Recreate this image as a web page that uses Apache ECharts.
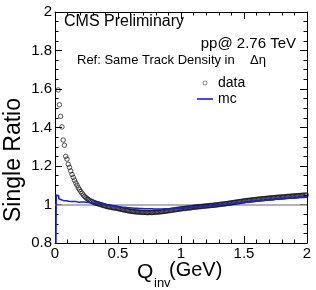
<!DOCTYPE html>
<html>
<head>
<meta charset="utf-8">
<script src="https://cdn.jsdelivr.net/npm/echarts@6/dist/echarts.min.js"></script>
<style>
html,body{margin:0;padding:0;background:#fff;}
#chart{width:316px;height:290px;}
</style>
</head>
<body>
<div id="chart"></div>
<script>
// Binning of the Q_inv histograms (GeV)
const binWidth = 0.01;
const nBins = 200;

// Tick labels
const xTicks = ["0", "0.5", "1", "1.5", "2"];
const yTicks = ["0.8", "1", "1.2", "1.4", "1.6", "1.8", "2"];

// data: single ratio per bin (null = not shown)
const dataRatio = [
  null, null, 1.595, 1.518, 1.458, 1.403, 1.335, 1.308, 1.250, 1.236,
  1.209, 1.193, 1.174, 1.156, 1.141, 1.126, 1.112, 1.100, 1.087, 1.077,
  1.067, 1.058, 1.049, 1.042, 1.036, 1.030, 1.026, 1.021, 1.018, 1.015,
  1.012, 1.009, 1.007, 1.005, 1.003, 1.001, 0.999, 0.997, 0.995, 0.993,
  0.991, 0.989, 0.988, 0.987, 0.985, 0.984, 0.983, 0.982, 0.981, 0.980,
  0.978, 0.977, 0.975, 0.974, 0.972, 0.971, 0.970, 0.968, 0.967, 0.966,
  0.965, 0.964, 0.963, 0.962, 0.962, 0.961, 0.961, 0.960, 0.960, 0.959,
  0.959, 0.959, 0.958, 0.958, 0.958, 0.959, 0.958, 0.959, 0.959, 0.960,
  0.960, 0.961, 0.961, 0.962, 0.963, 0.963, 0.964, 0.965, 0.966, 0.967,
  0.968, 0.969, 0.970, 0.971, 0.972, 0.973, 0.974, 0.975, 0.976, 0.977,
  0.978, 0.979, 0.979, 0.980, 0.981, 0.982, 0.982, 0.983, 0.984, 0.985,
  0.986, 0.987, 0.987, 0.988, 0.989, 0.989, 0.990, 0.991, 0.991, 0.992,
  0.993, 0.993, 0.994, 0.995, 0.995, 0.996, 0.997, 0.997, 0.998, 0.999,
  1.000, 1.001, 1.002, 1.002, 1.003, 1.004, 1.005, 1.006, 1.007, 1.008,
  1.009, 1.010, 1.011, 1.012, 1.013, 1.014, 1.015, 1.016, 1.017, 1.018,
  1.019, 1.020, 1.021, 1.021, 1.022, 1.023, 1.024, 1.025, 1.025, 1.026,
  1.027, 1.028, 1.028, 1.029, 1.030, 1.030, 1.031, 1.032, 1.032, 1.033,
  1.034, 1.034, 1.035, 1.035, 1.036, 1.037, 1.037, 1.038, 1.038, 1.039,
  1.039, 1.040, 1.040, 1.041, 1.042, 1.042, 1.043, 1.043, 1.044, 1.044,
  1.045, 1.045, 1.046, 1.046, 1.047, 1.047, 1.048, 1.048, 1.049, 1.049
];

// mc: single ratio per bin (histogram)
const mcRatio = [
  0.000, 1.049, 1.046, 1.030, 1.025, 1.022, 1.020, 1.018, 1.019, 1.016,
  1.017, 1.015, 1.016, 1.014, 1.015, 1.013, 1.015, 1.014, 1.012, 1.014,
  1.013, 1.012, 1.013, 1.011, 1.012, 1.010, 1.011, 1.009, 1.010, 1.008,
  1.008, 1.007, 1.006, 1.006, 1.005, 1.004, 1.004, 1.003, 1.003, 1.002,
  0.998, 0.998, 0.997, 0.996, 0.995, 0.994, 0.993, 0.992, 0.991, 0.990,
  0.989, 0.988, 0.987, 0.987, 0.986, 0.985, 0.984, 0.984, 0.983, 0.982,
  0.982, 0.981, 0.981, 0.980, 0.980, 0.980, 0.979, 0.979, 0.979, 0.979,
  0.978, 0.978, 0.978, 0.978, 0.978, 0.977, 0.978, 0.977, 0.977, 0.977,
  0.977, 0.977, 0.977, 0.977, 0.977, 0.977, 0.978, 0.977, 0.978, 0.978,
  0.978, 0.978, 0.979, 0.979, 0.979, 0.980, 0.980, 0.980, 0.981, 0.981,
  0.981, 0.982, 0.982, 0.983, 0.983, 0.984, 0.984, 0.985, 0.985, 0.986,
  0.986, 0.987, 0.987, 0.988, 0.988, 0.989, 0.990, 0.990, 0.991, 0.991,
  0.992, 0.993, 0.993, 0.994, 0.995, 0.995, 0.996, 0.997, 0.997, 0.998,
  0.999, 0.999, 1.000, 1.001, 1.001, 1.002, 1.003, 1.003, 1.004, 1.005,
  1.005, 1.006, 1.007, 1.007, 1.008, 1.009, 1.009, 1.010, 1.011, 1.011,
  1.012, 1.013, 1.013, 1.014, 1.015, 1.015, 1.016, 1.017, 1.017, 1.018,
  1.018, 1.019, 1.020, 1.020, 1.021, 1.021, 1.022, 1.023, 1.023, 1.024,
  1.024, 1.025, 1.025, 1.026, 1.027, 1.027, 1.028, 1.028, 1.029, 1.029,
  1.030, 1.030, 1.031, 1.031, 1.032, 1.032, 1.033, 1.033, 1.034, 1.034,
  1.034, 1.035, 1.035, 1.036, 1.036, 1.036, 1.037, 1.037, 1.038, 1.038
];

const referenceLevel = 1;

const FONT = "'Liberation Sans', Arial, Helvetica, sans-serif";

// build series data
const dataPoints = [];
for (let i = 0; i < nBins; i++) {
  if (dataRatio[i] !== null) dataPoints.push([(i + 0.5) * binWidth, dataRatio[i]]);
}
const mcPoints = [];
for (let i = 0; i < nBins; i++) mcPoints.push([i * binWidth, mcRatio[i]]);
mcPoints.push([nBins * binWidth, mcRatio[nBins - 1]]);

const tickCommon = {
  axisLine: { show: true, onZero: false, lineStyle: { color: '#000', width: 1 } },
  splitLine: { show: false }
};

function xAx(pos, labels) {
  return Object.assign({}, tickCommon, {
    type: 'value', min: 0, max: 2, interval: 0.5, position: pos,
    axisTick: { show: true, inside: true, length: 7, lineStyle: { color: '#000' } },
    minorTick: { show: true, splitNumber: 5, length: 3.5, lineStyle: { color: '#000' } },
    axisLabel: labels ? {
      show: true, fontSize: 15, color: '#000', fontFamily: FONT, margin: 3,
      showMinLabel: true, showMaxLabel: true,
      formatter: function (v) { return xTicks[Math.round(v / 0.5)]; }
    } : { show: false }
  });
}
function yAx(pos, labels) {
  return Object.assign({}, tickCommon, {
    type: 'value', min: 0.8, max: 2, interval: 0.2, position: pos,
    axisTick: { show: true, inside: true, length: 7, lineStyle: { color: '#000' } },
    minorTick: { show: true, splitNumber: 4, length: 3.5, lineStyle: { color: '#000' } },
    axisLabel: labels ? {
      show: true, fontSize: 15, color: '#000', fontFamily: FONT, margin: 3,
      showMinLabel: true, showMaxLabel: true,
      formatter: function (v) { return yTicks[Math.round((v - 0.8) / 0.2)]; }
    } : { show: false }
  });
}

const chart = echarts.init(document.getElementById('chart'), null, { renderer: 'canvas' });
chart.setOption({
  backgroundColor: '#fff',
  animation: false,
  grid: { left: 55, right: 9, top: 12, bottom: 47, containLabel: false },
  xAxis: [xAx('bottom', true), xAx('top', false)],
  yAxis: [yAx('left', true), yAx('right', false)],
  legend: {
    orient: 'vertical', left: 192, top: 71, itemWidth: 16, itemHeight: 4, itemGap: 2,
    textStyle: { fontSize: 14, color: '#000', fontFamily: FONT },
    data: [
      { name: 'data', icon: 'circle',
        itemStyle: { color: 'rgba(0,0,0,0)', borderColor: '#333', borderWidth: 0.7 } },
      { name: 'mc', icon: 'path://M0,0 L16,0 L16,1.6 L0,1.6 Z',
        itemStyle: { color: '#1a1aff', borderWidth: 0 } }
    ]
  },
  series: [
    {
      name: 'data', type: 'scatter', xAxisIndex: 0, yAxisIndex: 0,
      data: dataPoints, symbol: 'circle', symbolSize: 4.5,
      itemStyle: { color: 'rgba(0,0,0,0)', borderColor: '#111', borderWidth: 0.9 },
      z: 3,
      markLine: {
        silent: true, symbol: 'none', label: { show: false },
        lineStyle: { color: '#9a9a9a', width: 1.5, type: 'solid' },
        data: [{ yAxis: referenceLevel }], z: 1
      }
    },
    {
      name: 'mc', type: 'line', xAxisIndex: 0, yAxisIndex: 0,
      data: mcPoints, step: 'end', showSymbol: false, symbol: 'none',
      lineStyle: { color: '#1a1aff', width: 1.5 }, itemStyle: { color: '#1a1aff' },
      z: 4
    }
  ],
  graphic: [
    { type: 'text', left: 64, top: 14, style: { text: 'CMS Preliminary', fontSize: 16, fontFamily: FONT, fill: '#000' } },
    { type: 'text', right: 20, top: 36, style: { text: 'pp@ 2.76 TeV', fontSize: 15, fontFamily: FONT, fill: '#000' } },
    { type: 'text', left: 77, top: 54, style: { text: 'Ref: Same Track Density in', fontSize: 13, fontFamily: FONT, fill: '#000' } },
    { type: 'text', left: 250, top: 54, style: { text: 'Δη', fontSize: 13, fontFamily: FONT, fill: '#000' } },
    { type: 'text', left: 137, top: 262, style: { text: 'Q', fontSize: 21, fontFamily: FONT, fill: '#000' } },
    { type: 'text', left: 154, top: 277, style: { text: 'inv', fontSize: 13, fontFamily: FONT, fill: '#000' } },
    { type: 'text', left: 169, top: 260, style: { text: '(GeV)', fontSize: 20, fontFamily: FONT, fill: '#000' } },
    { type: 'text', x: 14, y: 160, rotation: Math.PI / 2,
      style: { text: 'Single Ratio', fontSize: 23, fontFamily: FONT, fill: '#000', align: 'center', verticalAlign: 'middle' } }
  ]
});
</script>
</body>
</html>
